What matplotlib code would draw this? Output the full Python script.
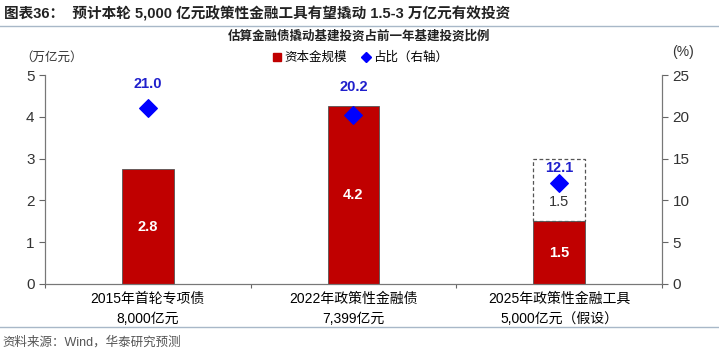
import matplotlib.pyplot as plt
from matplotlib.patches import Rectangle
from matplotlib.lines import Line2D

plt.rcParams['font.family'] = ['Liberation Sans', 'Noto Sans CJK SC', 'DejaVu Sans']

# data
categories = ['2015年首轮专项债\n8,000亿元', '2022年政策性金融债\n7,399亿元', '2025年政策性金融工具\n5,000亿元（假设）']
capital = [2.75, 4.25, 1.5]
capital_labels = ['2.8', '4.2', '1.5']
assumed_extra = [0, 0, 1.5]
ratio = [21.0, 20.2, 12.1]

RED = '#C00000'
BLUE = '#0000FF'

fig = plt.figure(figsize=(7.19, 3.51), dpi=100)
ax = fig.add_axes([0.0626, 0.1909, 0.8581, 0.5954])
ax2 = ax.twinx()

x = list(range(len(categories)))
bw = 0.25
ax.bar(x, capital, width=bw, color=RED, edgecolor='#555555', linewidth=0.6, zorder=2)
for i, v in enumerate(assumed_extra):
    if v > 0:
        ax.add_patch(Rectangle((x[i] - bw / 2, capital[i]), bw, v, fill=False,
                               edgecolor='#555555', linestyle=(0, (3, 2)), linewidth=0.9, zorder=3))
        ax.text(x[i], capital[i] + v * 0.31, f'{v:.1f}', ha='center', va='center',
                fontsize=10.5, color='#333333', zorder=4)
for i, v in enumerate(capital):
    ax.text(x[i], v / 2, capital_labels[i], ha='center', va='center', fontsize=10.5,
            color='white', fontweight='bold', zorder=4)

ax2.scatter(x, ratio, marker='D', s=80, color=BLUE, zorder=5)
label_gap = [2.9, 3.4, 1.8]
for i, v in enumerate(ratio):
    ax2.text(x[i], v + label_gap[i], f'{v:.1f}', ha='center', va='center', fontsize=10.5,
             color='#1F1FCC', fontweight='bold')

ax.set_xlim(-0.5, 2.5)
ax.set_ylim(0, 5)
ax2.set_ylim(0, 25)
ax.set_yticks(range(6))
ax2.set_yticks(range(0, 26, 5))
ax.set_xticks([-0.5, 0.5, 1.5, 2.5])
ax.set_xticklabels([])
ax.set_xticks(x, minor=True)
ax.set_xticklabels(categories, minor=True, fontsize=10, linespacing=1.5)
ax.tick_params(axis='x', which='minor', length=0, pad=6)
ax.tick_params(axis='x', which='major', length=3, direction='out', color='#666666')
for a in (ax, ax2):
    a.tick_params(axis='y', labelsize=11, length=4, color='#666666', labelcolor='#333333')
    for s in a.spines.values():
        s.set_color('#777777')
    a.spines['top'].set_visible(False)

fig.text(0.006, 0.962, '图表36：  预计本轮 5,000 亿元政策性金融工具有望撬动 1.5-3 万亿元有效投资',
         fontsize=10.5, fontweight='bold', color='#222222', va='center')
fig.add_artist(Line2D([0.0, 1.0], [0.925, 0.925], color='#A8B8C8', linewidth=1.0))
fig.text(0.5, 0.897, '估算金融债撬动基建投资占前一年基建投资比例', fontsize=9, fontweight='bold',
         ha='center', va='center', color='#222222')
fig.text(0.028, 0.835, '（万亿元）', fontsize=9, va='center', color='#333333')
fig.text(0.935, 0.852, '(%)', fontsize=10, va='center', color='#333333')

handles = [Line2D([], [], marker='s', linestyle='none', color=RED, markersize=6),
           Line2D([], [], marker='D', linestyle='none', color=BLUE, markersize=5)]
fig.legend(handles, ['资本金规模', '占比（右轴）'], loc='center', bbox_to_anchor=(0.5, 0.835),
           ncol=2, frameon=False, fontsize=9, handletextpad=0.1, columnspacing=1.0,
           handlelength=1.0)

fig.add_artist(Line2D([0.0, 1.0], [0.067, 0.067], color='#A8B8C8', linewidth=1.0))
fig.text(0.004, 0.025, '资料来源：Wind，华泰研究预测', fontsize=9, va='center', color='#555555')

fig.savefig('out.png', dpi=100)
